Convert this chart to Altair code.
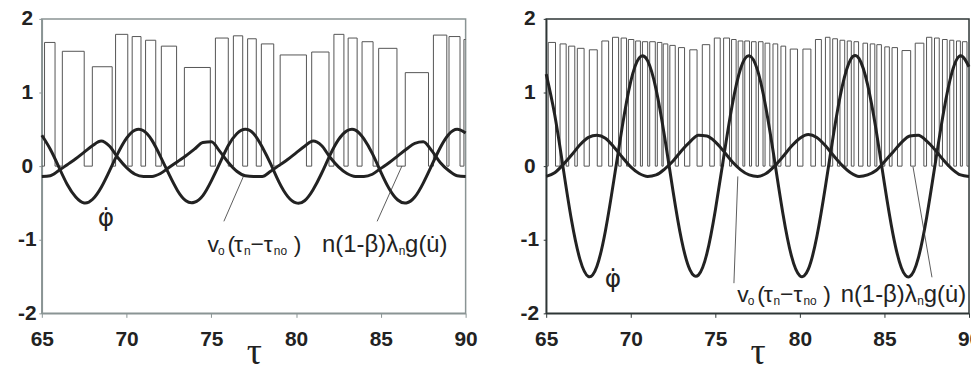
import altair as alt
import pandas as pd

# ---------------- data ----------------
TAU = [65.0, 65.5, 66.0, 66.5, 67.0, 67.5, 68.0, 68.5, 69.0, 69.5,
       70.0, 70.5, 71.0, 71.5, 72.0, 72.5, 73.0, 73.5, 74.0, 74.5,
       75.0, 75.5, 76.0, 76.5, 77.0, 77.5, 78.0, 78.5, 79.0, 79.5,
       80.0, 80.5, 81.0, 81.5, 82.0, 82.5, 83.0, 83.5, 84.0, 84.5,
       85.0, 85.5, 86.0, 86.5, 87.0, 87.5, 88.0, 88.5, 89.0, 89.5, 90.0]

LEFT_PHI = [0.42, 0.23, -0.01, -0.25, -0.42, -0.50, -0.45, -0.29, -0.06, 0.18,
            0.38, 0.49, 0.48, 0.35, 0.13, -0.11, -0.33, -0.47, -0.49, -0.40,
            -0.20, 0.04, 0.28, 0.44, 0.50, 0.44, 0.26, 0.03, -0.22, -0.41,
            -0.50, -0.47, -0.32, -0.10, 0.15, 0.36, 0.48, 0.49, 0.37, 0.17,
            -0.08, -0.31, -0.46, -0.50, -0.42, -0.23, 0.01, 0.25, 0.43, 0.50, 0.45]
LEFT_VO = [-0.14, -0.13, -0.06, 0.02, 0.10, 0.19, 0.28, 0.34, 0.27, 0.11,
           -0.02, -0.11, -0.14, -0.14, -0.10, -0.02, 0.06, 0.14, 0.23, 0.32,
           0.33, 0.20, 0.05, -0.07, -0.13, -0.14, -0.14, -0.07, 0.01, 0.09,
           0.18, 0.27, 0.34, 0.28, 0.12, -0.01, -0.10, -0.14, -0.14, -0.11,
           -0.03, 0.05, 0.14, 0.23, 0.31, 0.33, 0.21, 0.05, -0.06, -0.13, -0.14]
RIGHT_PHI = [1.25, 0.70, -0.02, -0.74, -1.27, -1.50, -1.36, -0.88, -0.19, 0.54,
             1.15, 1.47, 1.43, 1.04, 0.40, -0.34, -1.00, -1.41, -1.48, -1.19,
             -0.60, 0.13, 0.83, 1.33, 1.50, 1.30, 0.78, 0.08, -0.65, -1.22,
             -1.49, -1.40, -0.96, -0.29, 0.45, 1.08, 1.45, 1.46, 1.11, 0.50,
             -0.24, -0.92, -1.38, -1.50, -1.25, -0.69, 0.03, 0.74, 1.28, 1.50, 1.35]
RIGHT_VO = [-0.14, -0.09, 0.02, 0.15, 0.29, 0.39, 0.42, 0.38, 0.26, 0.12,
            -0.01, -0.10, -0.14, -0.12, -0.04, 0.07, 0.21, 0.33, 0.42, 0.41,
            0.33, 0.20, 0.06, -0.05, -0.12, -0.14, -0.10, 0.00, 0.13, 0.27,
            0.38, 0.43, 0.39, 0.28, 0.14, 0.01, -0.09, -0.14, -0.12, -0.06,
            0.06, 0.19, 0.32, 0.41, 0.42, 0.34, 0.22, 0.08, -0.04, -0.12, -0.14]

# pulse train n(1-beta)lambda_n g(u'): start, end, height of each pulse
LEFT_P_START = [65.16, 66.21, 67.98, 69.35, 70.33, 71.12, 72.05, 73.41, 75.24, 76.30, 77.14,
                77.95, 79.06, 80.92, 82.23, 83.07, 83.89, 84.87, 86.44, 88.10, 89.02, 89.90]
LEFT_P_END = [65.78, 67.50, 69.15, 70.07, 70.85, 71.72, 72.95, 74.94, 76.00, 76.85, 77.65,
              78.68, 80.61, 81.94, 82.82, 83.60, 84.54, 85.95, 87.81, 88.89, 89.67, 90.40]
LEFT_P_HEIGHT = [1.68, 1.56, 1.35, 1.79, 1.76, 1.71, 1.63, 1.34, 1.74, 1.77, 1.73,
                 1.66, 1.51, 1.55, 1.79, 1.74, 1.69, 1.60, 1.27, 1.78, 1.76, 1.72]

RIGHT_P_START = [65.12, 65.82, 66.33, 66.84, 67.55, 68.29, 68.92, 69.43, 69.86, 70.29,
                 70.69, 71.12, 71.57, 71.92, 72.31, 72.82, 73.49, 74.23, 74.94, 75.49,
                 75.96, 76.35, 76.74, 77.14, 77.55, 77.94, 78.41, 78.88, 79.43, 80.18,
                 80.92, 81.51, 81.94, 82.37, 82.80, 83.20, 83.73, 84.16, 84.55, 85.02,
                 85.45, 86.04, 86.82, 87.49, 87.96, 88.43, 88.86, 89.26, 89.61]
RIGHT_P_END = [65.55, 66.18, 66.69, 67.24, 68.02, 68.69, 69.28, 69.75, 70.18, 70.57,
               71.00, 71.45, 71.84, 72.19, 72.63, 73.18, 73.92, 74.67, 75.29, 75.84,
               76.23, 76.63, 77.02, 77.41, 77.82, 78.22, 78.69, 79.16, 79.86, 80.65,
               81.27, 81.78, 82.22, 82.65, 83.04, 83.47, 84.00, 84.43, 84.82, 85.29,
               85.77, 86.55, 87.33, 87.80, 88.24, 88.71, 89.10, 89.49, 89.88]
RIGHT_P_HEIGHT = [1.68, 1.66, 1.63, 1.60, 1.58, 1.70, 1.75, 1.74, 1.72, 1.70,
                  1.69, 1.69, 1.68, 1.66, 1.64, 1.61, 1.58, 1.65, 1.74, 1.74,
                  1.72, 1.70, 1.70, 1.69, 1.69, 1.67, 1.66, 1.63, 1.59, 1.59,
                  1.72, 1.75, 1.73, 1.71, 1.70, 1.69, 1.67, 1.66, 1.65, 1.62,
                  1.61, 1.57, 1.67, 1.75, 1.74, 1.72, 1.71, 1.70, 1.69]

X_TICKS = [65, 70, 75, 80, 85, 90]
Y_TICKS = [-2, -1, 0, 1, 2]

# label pieces: text, pixel offset from the label's left edge, font size, subscript shift
VO_PIECES = [("v", 0, 23, 0), ("o", 10.5, 12, 3), ("(", 20, 23, 0), ("\u03c4", 26.5, 23, 0),
             ("n", 36.5, 12, 3), ("\u2212", 43, 23, 0), ("\u03c4", 56.5, 23, 0),
             ("no", 66.5, 12, 3), (")", 86.5, 23, 0)]
G_PIECES = [("n(1-\u03b2)\u03bb", 0, 24, 0), ("n", 77, 12, 3), ("g(u\u0307)", 83.5, 24, 0)]
PHI_LABEL = "\u03c6\u0307"

# label anchors (tau, value)
LEFT_PHI_AT = (68.78, -0.71)
LEFT_VO_AT = (74.78, -1.17)
LEFT_G_AT = (81.53, -1.17)
RIGHT_PHI_AT = (68.94, -1.54)
RIGHT_VO_AT = (76.30, -1.84)
RIGHT_G_AT = (82.41, -1.84)

LEFT_LEAD_X = [76.91, 86.24]
LEFT_LEAD_Y = [-0.13, 0.0]
LEFT_LEAD_X2 = [75.74, 84.78]
LEFT_LEAD_Y2 = [-0.75, -0.75]
RIGHT_LEAD_X = [76.33, 86.69]
RIGHT_LEAD_Y = [-0.14, -0.01]
RIGHT_LEAD_X2 = [76.10, 87.81]
RIGHT_LEAD_Y2 = [-1.59, -1.51]


def pulse_table(starts, ends, heights):
    rows = [(65.0, 0.0)]
    for s, e, h in zip(starts, ends, heights):
        rows += [(s, 0.0), (s, h), (e, h), (e, 0.0)]
    if ends[-1] < 90:
        rows.append((90.0, 0.0))
    return pd.DataFrame({"tau": [r[0] for r in rows],
                         "val": [r[1] for r in rows],
                         "i": list(range(len(rows)))})


def panel(phi, vo, ps, pe, ph, phi_at, vo_at, g_at, lx, ly, lx2, ly2,
          frame, ylab_pad, width, height):
    xs = alt.Scale(domain=[65, 90], nice=False, zero=False)
    ys = alt.Scale(domain=[-2, 2], nice=False)
    xaxis = alt.Axis(values=X_TICKS, labelExpr="'' + datum.value", title="\u03c4", grid=False,
                     domainColor=frame, domainWidth=1.5, tickColor=frame, tickSize=4,
                     labelFont="Liberation Sans", labelFontSize=21, labelFontWeight="bold",
                     labelColor="#222", labelPadding=11, labelFlush=False,
                     titleFont="Liberation Serif", titleFontSize=38, titleFontWeight="normal",
                     titleColor="#222", titleBaseline="alphabetic", titleY=50)
    yaxis = alt.Axis(values=Y_TICKS, labelExpr="'' + datum.value", title=None, grid=False,
                     domainColor=frame, domainWidth=1.5, tickColor=frame, tickSize=3,
                     labelFont="Liberation Sans", labelFontSize=21, labelFontWeight="bold",
                     labelColor="#222", labelPadding=ylab_pad, labelAlign="center")

    curves = pd.DataFrame({"tau": TAU, "phi": phi, "vo": vo})
    pulses = pulse_table(ps, pe, ph)
    lead = pd.DataFrame({"x": lx, "y": ly, "x2": lx2, "y2": ly2})

    pulse_line = alt.Chart(pulses).mark_line(color="#555555", strokeWidth=1, clip=True).encode(
        x=alt.X("tau:Q", scale=xs, axis=xaxis),
        y=alt.Y("val:Q", scale=ys, axis=yaxis),
        order="i:Q")
    vo_line = alt.Chart(curves).mark_line(interpolate="monotone", color="#222222", strokeWidth=3).encode(
        x=alt.X("tau:Q", scale=xs), y=alt.Y("vo:Q", scale=ys))
    phi_line = alt.Chart(curves).mark_line(interpolate="natural", color="#222222", strokeWidth=3).encode(
        x=alt.X("tau:Q", scale=xs), y=alt.Y("phi:Q", scale=ys))
    leaders = alt.Chart(lead).mark_rule(color="#333333", strokeWidth=0.8).encode(
        x=alt.X("x:Q", scale=xs), y=alt.Y("y:Q", scale=ys), x2="x2:Q", y2="y2:Q")
    layers = [pulse_line, vo_line, phi_line, leaders]

    phi_df = pd.DataFrame({"x": [phi_at[0]], "y": [phi_at[1]], "t": [PHI_LABEL]})
    layers.append(alt.Chart(phi_df).mark_text(font="DejaVu Sans", fontSize=25, color="#222222",
                                              align="center", baseline="middle").encode(
        x=alt.X("x:Q", scale=xs), y=alt.Y("y:Q", scale=ys), text="t:N"))
    for at, pieces in ((vo_at, VO_PIECES), (g_at, G_PIECES)):
        for txt, off, size, sub in pieces:
            df = pd.DataFrame({"x": [at[0]], "y": [at[1]], "t": [txt]})
            layers.append(alt.Chart(df).mark_text(font="Liberation Sans", fontSize=size,
                                                  color="#222222", align="left",
                                                  baseline="alphabetic", dx=off, dy=sub).encode(
                x=alt.X("x:Q", scale=xs), y=alt.Y("y:Q", scale=ys), text="t:N"))
    return alt.layer(*layers).properties(
        width=width, height=height,
        view=alt.ViewBackground(stroke=frame, strokeWidth=1.5))


left = panel(LEFT_PHI, LEFT_VO, LEFT_P_START, LEFT_P_END, LEFT_P_HEIGHT,
             LEFT_PHI_AT, LEFT_VO_AT, LEFT_G_AT,
             LEFT_LEAD_X, LEFT_LEAD_Y, LEFT_LEAD_X2, LEFT_LEAD_Y2,
             "#8a9494", 12, 426, 296)
right = panel(RIGHT_PHI, RIGHT_VO, RIGHT_P_START, RIGHT_P_END, RIGHT_P_HEIGHT,
              RIGHT_PHI_AT, RIGHT_VO_AT, RIGHT_G_AT,
              RIGHT_LEAD_X, RIGHT_LEAD_Y, RIGHT_LEAD_X2, RIGHT_LEAD_Y2,
              "#2e3636", 14, 425, 296)

chart = alt.hconcat(left, right, spacing=40).properties(
    padding={"left": 8, "top": -2, "right": -11, "bottom": 0},
    background="white")

chart.save("out.html", embed_options={"renderer": "svg", "actions": False})
